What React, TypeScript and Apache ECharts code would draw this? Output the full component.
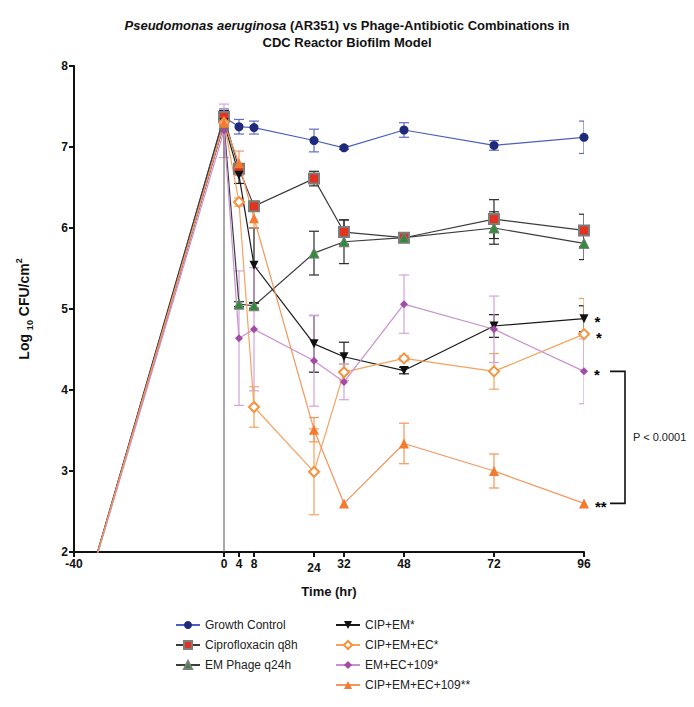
import React, { useEffect, useRef } from "react";
import * as echarts from "echarts";

const times = [-40, 0, 4, 8, 24, 32, 48, 72, 96];
const tickValues = [-40, 0, 4, 8, 24, 32, 48, 72, 96];

const growthControl = [1.0, 7.37, 7.25, 7.24, 7.08, 6.99, 7.21, 7.02, 7.12];
const growthControlErr = [0, 0.1, 0.09, 0.08, 0.14, 0.02, 0.09, 0.06, 0.2];
const cipro = [1.0, 7.37, 6.73, 6.27, 6.61, 5.95, 5.88, 6.11, 5.97];
const ciproErr = [0, 0.08, 0.05, 0.06, 0.09, 0.15, 0.05, 0.24, 0.2];
const emPhage = [1.0, 7.28, 5.06, 5.04, 5.69, 5.83, 5.88, 6.0, 5.81];
const emPhageErr = [0, 0.05, 0.03, 0.03, 0.27, 0.27, 0.05, 0.2, 0.2];
const cipEm = [1.0, 7.3, 6.65, 5.54, 4.57, 4.41, 4.24, 4.79, 4.88];
const cipEmErr = [0, 0.12, 0.1, 0.46, 0.35, 0.18, 0.04, 0.14, 0.16];
const cipEmEc = [1.0, 7.3, 6.32, 3.79, 2.99, 4.22, 4.39, 4.23, 4.69];
const cipEmEcErr = [0, 0.1, 0.05, 0.25, 0.53, 0.1, 0.03, 0.22, 0.44];
const emEc109 = [1.0, 7.2, 4.64, 4.75, 4.36, 4.1, 5.06, 4.75, 4.23];
const emEc109Err = [0, 0.33, 0.83, 0.76, 0.56, 0.22, 0.36, 0.41, 0.4];
const cipEmEc109 = [1.0, 7.3, 6.8, 6.12, 3.51, 2.6, 3.34, 3.0, 2.6];
const cipEmEc109Err = [0, 0.05, 0.15, 0.12, 0.15, 0, 0.25, 0.21, 0];

const pText = "P < 0.0001";

type Def = {
  name: string;
  values: number[];
  errs: number[];
  symbol: string;
  size: number;
  fill: string;
  border: string;
  borderWidth: number;
  line: string;
  errColor: string;
  star?: string;
};

const defs: Def[] = [
  { name: "Growth Control", values: growthControl, errs: growthControlErr, symbol: "circle", size: 9, fill: "#1f2a7a", border: "#1f2a7a", borderWidth: 0, line: "#4d5fbd", errColor: "#5f6ec4" },
  { name: "Ciprofloxacin q8h", values: cipro, errs: ciproErr, symbol: "rect", size: 10, fill: "#e2331f", border: "#7d7d7d", borderWidth: 2, line: "#3c3c3c", errColor: "#2a2a2a" },
  { name: "EM Phage q24h", values: emPhage, errs: emPhageErr, symbol: "triangle", size: 10, fill: "#2f8c3c", border: "#7d7d7d", borderWidth: 1, line: "#3c3c3c", errColor: "#2a2a2a" },
  { name: "CIP+EM*", values: cipEm, errs: cipEmErr, symbol: "path://M0,0 L10,0 L5,9 Z", size: 9, fill: "#111111", border: "#111111", borderWidth: 0, line: "#1a1a1a", errColor: "#1a1a1a", star: "*" },
  { name: "CIP+EM+EC*", values: cipEmEc, errs: cipEmEcErr, symbol: "diamond", size: 10, fill: "#ffffff", border: "#f5923e", borderWidth: 2, line: "#f7a25c", errColor: "#f7a25c", star: "*" },
  { name: "EM+EC+109*", values: emEc109, errs: emEc109Err, symbol: "diamond", size: 8, fill: "#a24aa8", border: "#a24aa8", borderWidth: 0, line: "#c98fd2", errColor: "#d4a3da", star: "*" },
  { name: "CIP+EM+EC+109**", values: cipEmEc109, errs: cipEmEc109Err, symbol: "triangle", size: 10, fill: "#f47a30", border: "#f47a30", borderWidth: 0, line: "#f5955c", errColor: "#f5955c", star: "**" },
];

export default function App() {
  const ref = useRef<HTMLDivElement>(null);
  useEffect(() => {
    document.body.style.margin = "0";
    const chart = echarts.init(ref.current!, null, { renderer: "svg" });
    const font = "'Liberation Sans', Arial, sans-serif";

    const errSeries = defs.map((d) => ({
      type: "custom",
      name: d.name + " err",
      z: 1,
      clip: true,
      data: times
        .map((t, i) => [t, d.values[i] - d.errs[i], d.values[i] + d.errs[i], d.errs[i]])
        .filter((r) => r[3] > 0),
      encode: { x: 0, y: [1, 2] },
      renderItem: (params: any, api: any) => {
        const x = api.value(0);
        const lo = api.coord([x, api.value(1)]);
        const hi = api.coord([x, api.value(2)]);
        const w = 5;
        const st = { stroke: d.errColor, lineWidth: 1.2 };
        return {
          type: "group",
          children: [
            { type: "line", shape: { x1: lo[0], y1: lo[1], x2: hi[0], y2: hi[1] }, style: st },
            { type: "line", shape: { x1: lo[0] - w, y1: lo[1], x2: lo[0] + w, y2: lo[1] }, style: st },
            { type: "line", shape: { x1: hi[0] - w, y1: hi[1], x2: hi[0] + w, y2: hi[1] }, style: st },
          ],
        };
      },
    }));

    const lineSeries = defs.map((d) => ({
      type: "line",
      name: d.name,
      z: 3,
      clip: true,
      symbol: d.symbol,
      symbolSize: d.size,
      showAllSymbol: true,
      lineStyle: { color: d.line, width: 1.2 },
      itemStyle: { color: d.fill, borderColor: d.border, borderWidth: d.borderWidth },
      data: times.map((t, i) => {
        if (d.star && i === times.length - 1) {
          return {
            value: [t, d.values[i]],
            label: {
              show: true,
              formatter: d.star,
              position: "right",
              distance: 6,
              offset: [0, 3],
              color: "#000",
              fontWeight: "bold",
              fontSize: 15,
              lineHeight: 11,
              fontFamily: font,
            },
          };
        }
        return [t, d.values[i]];
      }),
    }));

    chart.setOption({
      animation: false,
      backgroundColor: "#ffffff",
      textStyle: { fontFamily: font },
      title: {
        left: "center",
        top: 12,
        text: "{i|Pseudomonas aeruginosa}{b| (AR351) vs Phage-Antibiotic Combinations in}\n{b|CDC Reactor Biofilm Model}",
        textStyle: {
          rich: {
            i: { fontStyle: "italic", fontWeight: "bold", fontSize: 13, color: "#111", fontFamily: font, lineHeight: 17 },
            b: { fontWeight: "bold", fontSize: 13, color: "#111", fontFamily: font, lineHeight: 17 },
          },
        },
      },
      grid: { left: 74, right: 110, top: 66, bottom: 155 },
      xAxis: {
        type: "value",
        min: -40,
        max: 96,
        name: "Time (hr)",
        nameLocation: "middle",
        nameGap: 33,
        nameTextStyle: { fontWeight: "bold", fontSize: 13, color: "#111", fontFamily: font },
        splitLine: { show: false },
        axisLine: { show: true, onZero: false, lineStyle: { color: "#111", width: 2 } },
        axisTick: { show: true, length: 5, lineStyle: { color: "#111", width: 2 }, customValues: tickValues },
        axisLabel: {
          customValues: tickValues,
          margin: 6,
          fontWeight: "bold",
          fontSize: 12,
          color: "#111",
          fontFamily: font,
          formatter: (v: number) => (v === 24 ? "{low|24}" : String(v)),
          rich: { low: { fontWeight: "bold", fontSize: 12, color: "#111", fontFamily: font, padding: [4, 0, 0, 0] } },
        },
      },
      yAxis: {
        type: "value",
        min: 2,
        max: 8,
        interval: 1,
        name: "{a|Log }{s|10}{a| CFU/cm}{p|2}",
        nameLocation: "middle",
        nameGap: 40,
        nameTextStyle: {
          rich: {
            a: { fontWeight: "bold", fontSize: 14, color: "#111", fontFamily: font, lineHeight: 20 },
            s: { fontWeight: "bold", fontSize: 9, color: "#111", fontFamily: font, verticalAlign: "bottom", lineHeight: 20 },
            p: { fontWeight: "bold", fontSize: 9, color: "#111", fontFamily: font, verticalAlign: "top", lineHeight: 20 },
          },
        },
        splitLine: { show: false },
        axisLine: { show: true, onZero: false, lineStyle: { color: "#111", width: 2 } },
        axisTick: { show: true, length: 5, lineStyle: { color: "#111", width: 2 } },
        axisLabel: { margin: 6, fontWeight: "bold", fontSize: 12, color: "#111", fontFamily: font },
      },
      legend: [
        {
          orient: "vertical",
          left: 170,
          top: 614,
          itemWidth: 24,
          itemHeight: 10,
          itemGap: 8,
          textStyle: { fontSize: 12, color: "#222", fontFamily: font },
          data: defs.slice(0, 3).map((d) => d.name),
        },
        {
          orient: "vertical",
          left: 330,
          top: 614,
          itemWidth: 24,
          itemHeight: 10,
          itemGap: 8,
          textStyle: { fontSize: 12, color: "#222", fontFamily: font },
          data: defs.slice(3).map((d) => d.name),
        },
      ],
      series: [
        ...errSeries,
        {
          type: "line",
          name: "zero",
          z: 2,
          symbol: "none",
          lineStyle: { color: "#555", width: 1 },
          data: [
            [0, 2],
            [0, 7.3],
          ],
        },
        ...lineSeries,
      ],
    });

    const upper = emEc109[emEc109.length - 1];
    const lower = cipEmEc109[cipEmEc109.length - 1];
    const pu = chart.convertToPixel({ gridIndex: 0 }, [96, upper]) as number[];
    const pl = chart.convertToPixel({ gridIndex: 0 }, [96, lower]) as number[];
    const x0 = pu[0] + 26;
    const x1 = pu[0] + 41;
    chart.setOption({
      graphic: [
        {
          type: "polyline",
          shape: { points: [[x0, pu[1]], [x1, pu[1]], [x1, pl[1]], [x0, pl[1]]] },
          style: { stroke: "#111", lineWidth: 1.6, fill: null },
        },
        {
          type: "text",
          x: x1 + 8,
          y: (pu[1] + pl[1]) / 2,
          style: { text: pText, fontSize: 11, fill: "#222", fontFamily: font, verticalAlign: "middle" },
        },
      ],
    });
    return () => chart.dispose();
  }, []);
  return <div ref={ref} style={{ width: 694, height: 707 }} />;
}
